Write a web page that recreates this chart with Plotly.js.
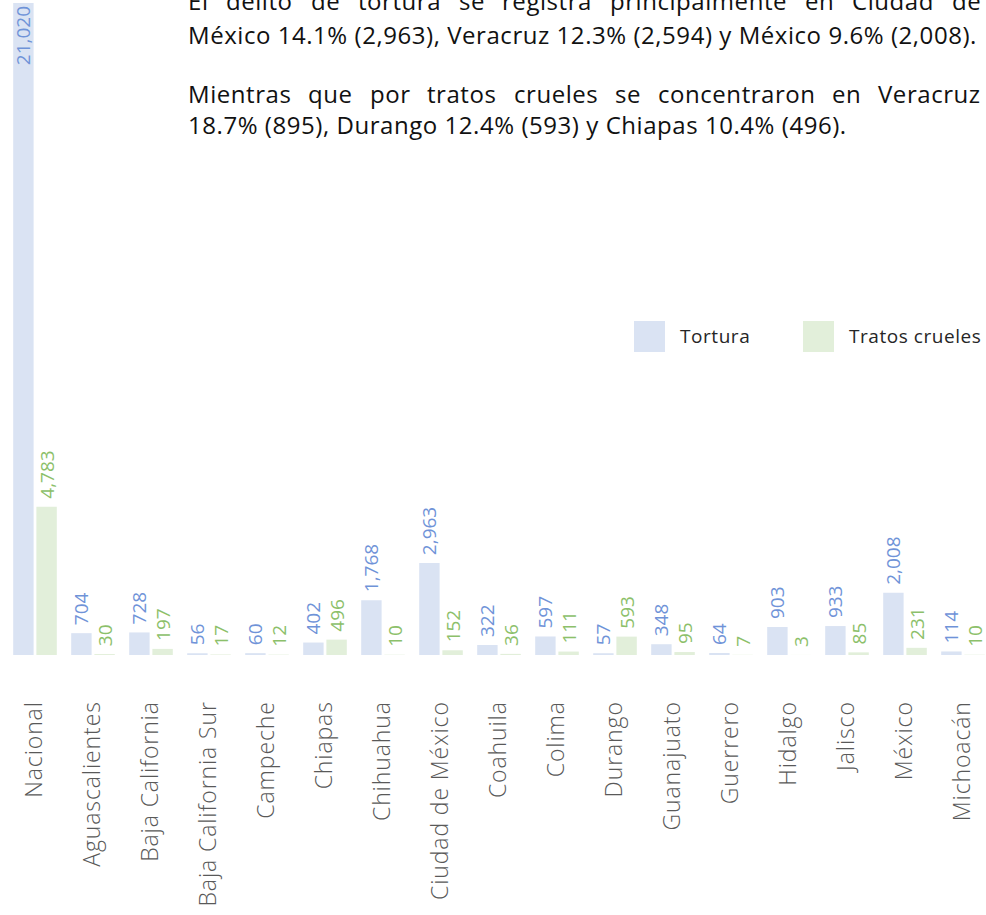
<!DOCTYPE html>
<html><head><meta charset="utf-8">
<script src="https://cdn.plot.ly/plotly-3.0.1.min.js"></script>
<style>
html,body{margin:0;padding:0;background:#fff;overflow:hidden;}
text.annotation-text{letter-spacing:0.55px;}
.xtick text{letter-spacing:0.9px;}
</style>
</head><body><div id="chart" style="width:986px;height:915px;"></div>
<script>
// ---- data ----
const categories = ["Nacional","Aguascalientes","Baja California","Baja California Sur","Campeche","Chiapas","Chihuahua","Ciudad de México","Coahuila","Colima","Durango","Guanajuato","Guerrero","Hidalgo","Jalisco","México","Michoacán"];
const tortura = [21020,704,728,56,60,402,1768,2963,322,597,57,348,64,903,933,2008,114];
const tratosCrueles = [4783,30,197,17,12,496,10,152,36,111,593,95,7,3,85,231,10];
const seriesNames = ["Tortura","Tratos crueles"];
const paragraph1 = ["El delito de tortura se registra principalmente en Ciudad de",
                    "México 14.1% (2,963), Veracruz 12.3% (2,594) y México 9.6% (2,008)."];
const paragraph2 = ["Mientras que por tratos crueles se concentraron en Veracruz",
                    "18.7% (895), Durango 12.4% (593) y Chiapas 10.4% (496)."];

// ---- styling / layout constants ----
const W = 986, H = 915;
const M = {l: 6, r: 0, t: 0, b: 260};
const PW = W - M.l - M.r, PH = H - M.t - M.b;
const FONT = '"Open Sans", Lato, sans-serif';
const blueBar = '#dae3f3', greenBar = '#e2efda';
const blueTxt = '#6f93d8', greenTxt = '#8cc06a';
const px2x = px => (px - M.l) / PW;
const py2y = py => 1 - (py - M.t) / PH;

const annotations = [];
const shapes = [];

// paragraph text (justified lines laid out word by word)
const canvas = document.createElement('canvas');
const ctx = canvas.getContext('2d');
const TX0 = 187, TX1 = 980;
const TXT_SIZE = 24, LS = 0.55;
ctx.font = TXT_SIZE + 'px "Open Sans"';

function addLine(text, baseline, justify) {
  const yc = py2y(baseline - 7);
  const f = {family:FONT, size:TXT_SIZE, color:'#111111'};
  if (!justify) {
    annotations.push({xref:'paper', yref:'paper', x: px2x(TX0), y: yc, xanchor:'left', yanchor:'middle',
      text: text, showarrow:false, borderpad:0, font:f});
    return;
  }
  const words = text.split(' ');
  const widths = words.map(w => ctx.measureText(w).width + w.length * LS);
  const total = widths.reduce((a,b)=>a+b,0);
  const gap = (TX1 - TX0 - total) / (words.length - 1);
  let x = TX0;
  words.forEach((w,i) => {
    annotations.push({xref:'paper', yref:'paper', x: px2x(x), y: yc, xanchor:'left', yanchor:'middle',
      text: w, showarrow:false, borderpad:0, font:f});
    x += widths[i] + gap;
  });
}
addLine(paragraph1[0], 8, true);
addLine(paragraph1[1], 41, false);
addLine(paragraph2[0], 100, true);
addLine(paragraph2[1], 132, false);

// legend (large swatches)
const legendItems = [{name: seriesNames[0], color: blueBar, x: 634}, {name: seriesNames[1], color: greenBar, x: 803}];
legendItems.forEach(it => {
  shapes.push({type:'rect', xref:'paper', yref:'paper', x0: px2x(it.x), x1: px2x(it.x+31),
    y0: py2y(352), y1: py2y(321), fillcolor: it.color, line:{width:0}});
  annotations.push({xref:'paper', yref:'paper', x: px2x(it.x+45), y: py2y(336), xanchor:'left', yanchor:'middle',
    text: it.name, showarrow:false, borderpad:0, font:{family:FONT, size:19, color:'#262626'}});
});

const torturaPos = tortura.map((v,i) => i === 0 ? 'inside' : 'outside');

const traces = [
  {type:'bar', name: seriesNames[0], x: categories, y: tortura,
   marker:{color: blueBar}, texttemplate:'\u00A0%{y:,}', textposition: torturaPos, insidetextanchor:'end',
   textangle:-90, constraintext:'none', cliponaxis:false,
   textfont:{family:FONT, size:19, color: blueTxt}, hoverinfo:'skip'},
  {type:'bar', name: seriesNames[1], x: categories, y: tratosCrueles,
   marker:{color: greenBar}, texttemplate:'\u00A0%{y:,}', textposition:'outside',
   textangle:-90, constraintext:'none', cliponaxis:false,
   textfont:{family:FONT, size:19, color: greenTxt}, hoverinfo:'skip'}
];

const layout = {
  width: W, height: H, margin: M,
  paper_bgcolor:'#ffffff', plot_bgcolor:'#ffffff',
  showlegend:false, barmode:'group', bargap:0.2, bargroupgap:0.12,
  xaxis:{range:[-0.5, -0.5 + PW/58], showgrid:false, zeroline:false, showline:false,
    ticks:'outside', ticklen:36, tickcolor:'rgba(0,0,0,0)', tickangle:-90,
    tickfont:{family:FONT, size:23, color:'#595959', weight:300}, fixedrange:true},
  yaxis:{range:[0, 21020*PH/652], visible:false, showgrid:false, zeroline:false, fixedrange:true},
  annotations: annotations, shapes: shapes,
  font:{family:FONT}
};
Plotly.newPlot('chart', traces, layout, {displayModeBar:false, staticPlot:true});
</script>
</body></html>
